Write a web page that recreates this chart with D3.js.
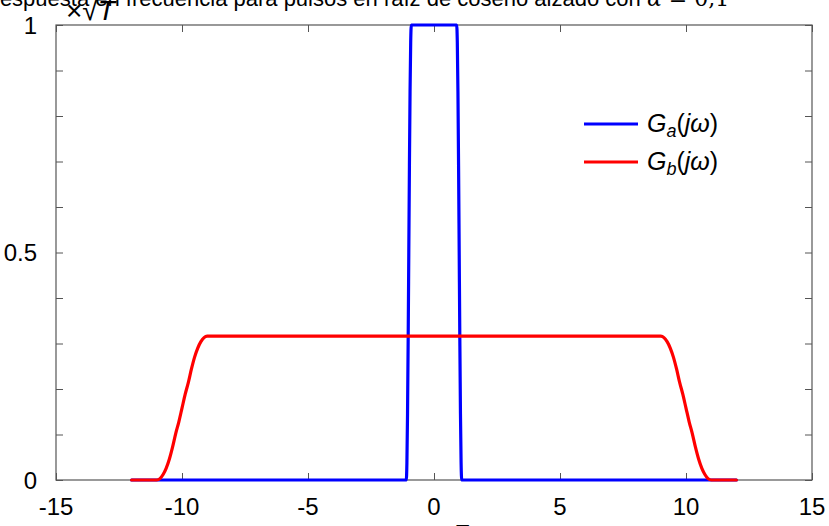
<!DOCTYPE html>
<html><head><meta charset="utf-8">
<script src="https://cdn.jsdelivr.net/npm/d3@7"></script>
<style>
html,body{margin:0;padding:0;background:#fff;overflow:hidden;}
text{font-family:"Liberation Sans",Arial,Helvetica,sans-serif;fill:#000;}
</style></head><body>
<svg id="c" width="829" height="526"></svg>
<script>
// ---- data ----
const xTicks = [-15, -10, -5, 0, 5, 10, 15];
const xTickLabels = ["-15", "-10", "-5", "0", "5", "10", "15"];
const yTicks = [0, 0.1, 0.2, 0.3, 0.4, 0.5, 0.6, 0.7, 0.8, 0.9, 1];
const yTickLabels = {0: "0", 0.5: "0.5", 1: "1"};
const gaX = [-12, -1.1, -1.075, -1.05, -1.025, -1.0, -0.975, -0.95, -0.925, -0.9, 0.9, 0.925, 0.95, 0.975, 1.0, 1.025, 1.05, 1.075, 1.1, 12];
const gaY = [0, 0, 0.038, 0.146, 0.309, 0.5, 0.691, 0.854, 0.962, 1, 1, 0.962, 0.854, 0.691, 0.5, 0.309, 0.146, 0.038, 0, 0];
const gbX = [-12, -11, -10.875, -10.75, -10.625, -10.5, -10.375, -10.25, -10.125, -10, -9.875, -9.75, -9.625, -9.5, -9.375, -9.25, -9.125, -9,
             9, 9.125, 9.25, 9.375, 9.5, 9.625, 9.75, 9.875, 10, 10.125, 10.25, 10.375, 10.5, 10.625, 10.75, 10.875, 11, 12];
const gbY = [0, 0, 0.003, 0.012, 0.026, 0.046, 0.072, 0.102, 0.128, 0.158, 0.188, 0.214, 0.244, 0.270, 0.290, 0.304, 0.313, 0.316,
             0.316, 0.313, 0.304, 0.290, 0.270, 0.244, 0.214, 0.188, 0.158, 0.128, 0.102, 0.072, 0.046, 0.026, 0.012, 0.003, 0, 0];

// ---- layout ----
const svg = d3.select("#c");
const L = 56, R = 812, T = 25, B = 480;
const x = d3.scaleLinear().domain([-15, 15]).range([L, R]);
const y = d3.scaleLinear().domain([0, 1]).range([B, T]);
const tickLen = 7, axisCol = "#555";

const g = svg.append("g");
const gBot = g.append("g").attr("transform", `translate(0,${B})`)
  .call(d3.axisTop(x).tickValues(xTicks).tickSize(tickLen).tickFormat(""));
const gTop = g.append("g").attr("transform", `translate(0,${T})`)
  .call(d3.axisBottom(x).tickValues(xTicks).tickSize(tickLen).tickFormat(""));
const gLeft = g.append("g").attr("transform", `translate(${L},0)`)
  .call(d3.axisRight(y).tickValues(yTicks).tickSize(tickLen).tickFormat(""));
const gRight = g.append("g").attr("transform", `translate(${R},0)`)
  .call(d3.axisLeft(y).tickValues(yTicks).tickSize(tickLen).tickFormat(""));
[gBot, gTop, gLeft, gRight].forEach(a => {
  a.select(".domain").remove();
  a.selectAll("line").attr("stroke", axisCol).attr("stroke-width", 1);
});
g.append("rect").attr("x", L).attr("y", T).attr("width", R - L).attr("height", B - T)
  .attr("fill", "none").attr("stroke", axisCol).attr("stroke-width", 1.2);

// tick labels
svg.append("g").selectAll("text").data(xTicks).join("text")
  .attr("x", d => x(d)).attr("y", 515).attr("text-anchor", "middle")
  .attr("font-size", 24).text((d, i) => xTickLabels[i]);
svg.append("g").selectAll("text").data(yTicks.filter(d => yTickLabels[d] !== undefined)).join("text")
  .attr("x", 37).attr("y", d => y(d) + 8.5).attr("text-anchor", "end")
  .attr("font-size", 24).text(d => yTickLabels[d]);

// lines
const line = d3.line().x(d => x(d[0])).y(d => y(d[1])).curve(d3.curveMonotoneX);
const gaData = gaX.map((v, i) => [v, gaY[i]]);
const gbData = gbX.map((v, i) => [v, gbY[i]]);
svg.append("path").attr("d", line(gaData)).attr("fill", "none")
  .attr("stroke", "#0000ff").attr("stroke-width", 3.2).attr("stroke-linejoin", "round").attr("stroke-linecap", "round");
svg.append("path").attr("d", line(gbData)).attr("fill", "none")
  .attr("stroke", "#ff0000").attr("stroke-width", 3.2).attr("stroke-linejoin", "round").attr("stroke-linecap", "round");

// legend
const legend = [{c: "#0000ff", sub: "a", y: 124}, {c: "#ff0000", sub: "b", y: 162}];
legend.forEach(l => {
  svg.append("line").attr("x1", 584).attr("x2", 638).attr("y1", l.y).attr("y2", l.y)
    .attr("stroke", l.c).attr("stroke-width", 3);
  const t = svg.append("text").attr("x", 647).attr("y", l.y + 8).attr("font-size", 25);
  t.append("tspan").attr("font-style", "italic").text("G");
  t.append("tspan").attr("font-style", "italic").attr("font-size", 18).attr("dy", 5).text(l.sub);
  t.append("tspan").attr("dy", -5).text("(");
  t.append("tspan").attr("font-style", "italic").text("jω");
  t.append("tspan").text(")");
});

// title (partially off-canvas like the reference)
const title = svg.append("text").attr("x", -16).attr("y", 6).attr("font-size", 22);
title.append("tspan").text("Respuesta en frecuencia para pulsos en raíz de coseno alzado con ");
title.append("tspan").attr("font-family", "'DejaVu Serif',serif").attr("font-style", "italic").text("α");
title.append("tspan").attr("font-family", "'DejaVu Serif',serif").text(" = 0,1");

// multiplier label
const mult = svg.append("text").attr("x", 66).attr("y", 20).attr("font-size", 28);
mult.append("tspan").text("×√");
mult.append("tspan").attr("font-style", "italic").text("T");

// x label (mostly below the window)
const xl = svg.append("text").attr("x", 437).attr("y", 540).attr("font-size", 22).attr("font-style", "italic");
xl.text("ωT");
</script>
</body></html>
